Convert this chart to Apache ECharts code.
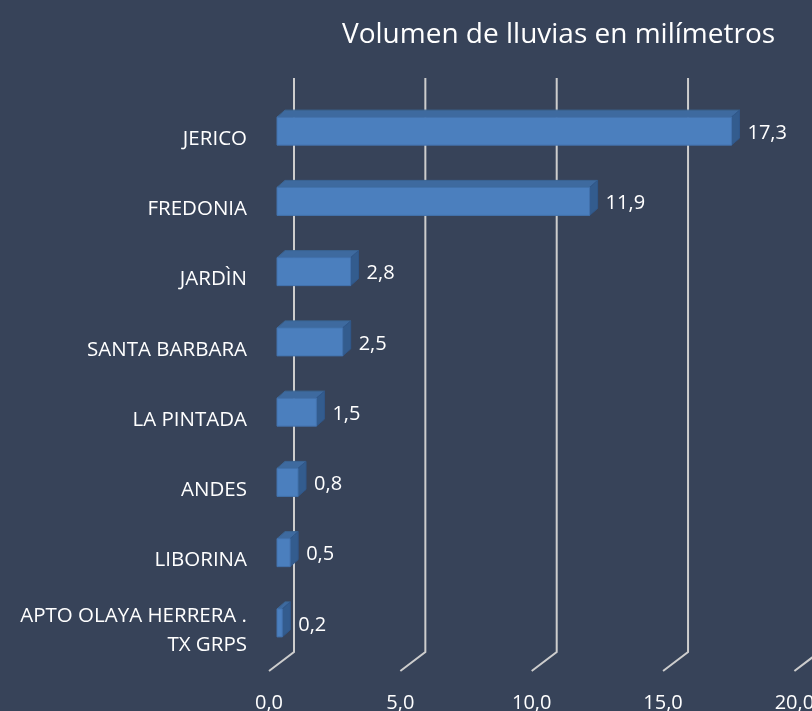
<!DOCTYPE html>
<html>
<head>
<meta charset="utf-8">
<script src="https://cdn.jsdelivr.net/npm/echarts@6/dist/echarts.min.js"></script>
<style>
  html, body { margin: 0; padding: 0; background: #374359; }
  #main { width: 812px; height: 711px; }
</style>
</head>
<body>
<div id="main"></div>
<script>
var categories = ['JERICO', 'FREDONIA', 'JARDÌN', 'SANTA BARBARA', 'LA PINTADA', 'ANDES', 'LIBORINA', 'APTO OLAYA HERRERA .\nTX GRPS'];
var values = [17.3, 11.9, 2.8, 2.5, 1.5, 0.8, 0.5, 0.2];
var xTicks = [0, 5, 10, 15, 20];

var fontName = 'Open Sans';
function fmt(v) { return v.toFixed(1).replace('.', ','); }

var chart = echarts.init(document.getElementById('main'));

// 3d wall + floor lines
function renderGrid(params, api) {
  var cs = params.coordSys;
  var p = api.coord([api.value(0), 0]);
  var bottom = cs.y + cs.height;
  return {
    type: 'polyline',
    shape: { points: [[p[0] + 25, cs.y - 26], [p[0] + 25, bottom - 14], [p[0], bottom + 5]] },
    style: { stroke: '#cdcdcd', lineWidth: 2, fill: null }
  };
}

// 3d bar: front, top, side
function renderBar(params, api) {
  var idx = api.value(1);
  var a = api.coord([0, idx]);
  var b = api.coord([api.value(0), idx]);
  var c = b[1];
  var left = a[0] + 8, right = b[0] + 8;
  var top = c - 22, bot = c + 6;
  var dx = 8, dy = -7;
  return {
    type: 'group',
    children: [
      { type: 'polygon', shape: { points: [[left, top], [right, top], [right + dx, top + dy], [left + dx, top + dy]] },
        style: { fill: '#3e6a9f', stroke: '#3a6594', lineWidth: 1 } },
      { type: 'polygon', shape: { points: [[right, top], [right + dx, top + dy], [right + dx, bot + dy], [right, bot]] },
        style: { fill: '#335c8e', stroke: '#30578a', lineWidth: 1 } },
      { type: 'rect', shape: { x: left, y: top, width: right - left, height: bot - top },
        style: { fill: '#4b7fbe', stroke: '#4372ad', lineWidth: 1 } },
      { type: 'text', style: { x: right + 16, y: c - 6, text: fmt(api.value(0)), fill: '#ffffff',
        font: '20px "' + fontName + '"', textAlign: 'left', textVerticalAlign: 'middle' } }
    ]
  };
}

var option = {
  backgroundColor: '#374359',
  animation: false,
  title: {
    text: 'Volumen de lluvias en milímetros',
    left: 337,
    top: 16,
    textStyle: { color: '#ffffff', fontFamily: fontName, fontSize: 28, fontWeight: 'normal' }
  },
  grid: { left: 269, right: 17.6, top: 104, bottom: 45, outerBoundsMode: 'none', containLabel: false },
  xAxis: {
    type: 'value', min: 0, max: 20, interval: 5,
    axisLine: { show: false }, axisTick: { show: false }, splitLine: { show: false },
    axisLabel: { color: '#ffffff', fontFamily: fontName, fontSize: 20, margin: 27, formatter: fmt, showMaxLabel: true }
  },
  yAxis: {
    type: 'category', data: categories, inverse: true,
    axisLine: { show: false }, axisTick: { show: false }, splitLine: { show: false },
    axisLabel: { color: '#ffffff', fontFamily: fontName, fontSize: 20.5, margin: 22, align: 'right', lineHeight: 29, padding: [4, 0, 0, 0] }
  },
  series: [
    { type: 'custom', renderItem: renderGrid, data: xTicks.map(function (v) { return [v]; }), z: 1, silent: true },
    { type: 'custom', renderItem: renderBar, data: values.map(function (v, i) { return [v, i]; }), z: 2, silent: true }
  ]
};
chart.setOption(option);
</script>
</body>
</html>
